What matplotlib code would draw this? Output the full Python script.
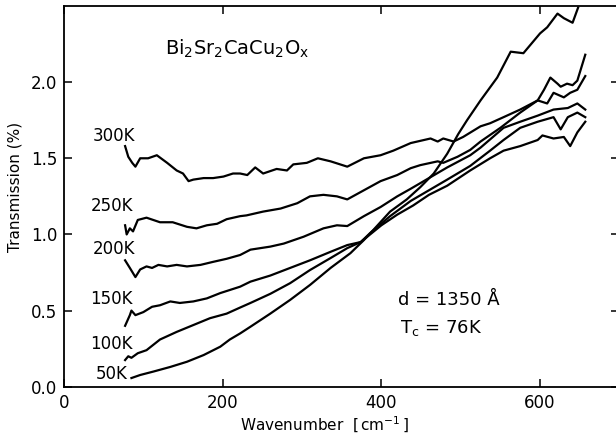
from matplotlib import pyplot as plt

# wavenumber (cm^-1) / transmission (%), one pair per temperature
x_300 = [77, 81, 86, 90, 96, 106, 117, 130, 142, 150, 157, 163, 176, 188, 201, 213, 222, 231,
         241, 251, 268, 281, 289, 306, 320, 336, 357, 378, 399, 415, 437, 462, 471, 478, 491,
         503, 525, 537, 554, 575, 597, 609, 617, 630, 638, 647, 657]
t_300 = [1.58, 1.51, 1.47, 1.445, 1.50, 1.50, 1.52, 1.47, 1.42, 1.40, 1.35, 1.36, 1.37, 1.37,
         1.38, 1.40, 1.40, 1.39, 1.44, 1.40, 1.43, 1.42, 1.46, 1.47, 1.50, 1.48, 1.445, 1.50,
         1.52, 1.55, 1.60, 1.63, 1.61, 1.63, 1.61, 1.64, 1.71, 1.73, 1.77, 1.82, 1.88, 1.86,
         1.93, 1.90, 1.93, 1.95, 2.04]

x_250 = [77, 79, 83, 87, 93, 104, 121, 137, 155, 167, 180, 193, 205, 222, 230, 251, 273, 294,
         310, 327, 344, 357, 378, 399, 420, 437, 449, 471, 478, 496, 512, 525, 550, 575, 597,
         605, 613, 622, 626, 634, 641, 647, 657]
t_250 = [1.06, 1.00, 1.04, 1.02, 1.095, 1.11, 1.08, 1.08, 1.05, 1.04, 1.06, 1.07, 1.10, 1.12,
         1.125, 1.15, 1.17, 1.205, 1.25, 1.26, 1.25, 1.23, 1.29, 1.35, 1.39, 1.435, 1.455, 1.48,
         1.47, 1.51, 1.555, 1.61, 1.70, 1.80, 1.88, 1.95, 2.03, 1.99, 1.97, 1.99, 1.98, 2.01, 2.18]

x_200 = [77, 83, 90, 96, 104, 111, 119, 130, 142, 155, 172, 188, 205, 222, 235, 260, 277, 302,
         327, 344, 357, 378, 399, 420, 437, 460, 483, 512, 525, 554, 575, 597, 617, 635, 647, 657]
t_200 = [0.83, 0.78, 0.72, 0.77, 0.79, 0.78, 0.80, 0.79, 0.80, 0.79, 0.80, 0.82, 0.84, 0.865,
         0.90, 0.92, 0.94, 0.985, 1.04, 1.06, 1.055, 1.12, 1.18, 1.25, 1.30, 1.37, 1.44, 1.52,
         1.57, 1.70, 1.74, 1.78, 1.82, 1.83, 1.86, 1.82]

x_150 = [77, 83, 85, 90, 100, 111, 121, 134, 146, 163, 180, 197, 222, 235, 260, 285, 310, 336,
         357, 374, 400, 420, 440, 460, 483, 512, 537, 554, 575, 597, 603, 617, 630, 638, 647, 657]
t_150 = [0.40, 0.47, 0.50, 0.47, 0.49, 0.525, 0.535, 0.56, 0.55, 0.56, 0.58, 0.615, 0.657, 0.69,
         0.73, 0.78, 0.83, 0.886, 0.93, 0.95, 1.06, 1.13, 1.19, 1.26, 1.32, 1.42, 1.50, 1.55,
         1.58, 1.62, 1.65, 1.63, 1.64, 1.58, 1.67, 1.74]

x_100 = [77, 81, 85, 93, 104, 121, 142, 163, 184, 205, 222, 235, 260, 285, 310, 336, 357, 374,
         386, 411, 437, 460, 483, 512, 537, 554, 575, 597, 617, 626, 635, 647, 657]
t_100 = [0.175, 0.20, 0.19, 0.22, 0.24, 0.31, 0.36, 0.405, 0.45, 0.48, 0.52, 0.55, 0.61, 0.68,
         0.766, 0.845, 0.91, 0.95, 1.01, 1.12, 1.22, 1.29, 1.36, 1.45, 1.55, 1.62, 1.70, 1.74,
         1.77, 1.69, 1.77, 1.80, 1.77]

x_50 = [85, 96, 113, 134, 155, 176, 197, 209, 222, 235, 260, 285, 310, 336, 361, 378, 390, 411,
        432, 449, 466, 483, 497, 508, 525, 546, 563, 579, 600, 609, 622, 630, 641, 648]
t_50 = [0.057, 0.077, 0.10, 0.13, 0.164, 0.208, 0.263, 0.31, 0.35, 0.394, 0.48, 0.57, 0.668,
        0.78, 0.877, 0.963, 1.03, 1.15, 1.23, 1.31, 1.40, 1.53, 1.66, 1.75, 1.88, 2.03, 2.20,
        2.19, 2.32, 2.36, 2.45, 2.42, 2.39, 2.49]

curves = [(x_300, t_300), (x_250, t_250), (x_200, t_200),
          (x_150, t_150), (x_100, t_100), (x_50, t_50)]

temp_labels = ["300K", "250K", "200K", "150K", "100K", "50K"]
label_x = [90, 87, 90, 87, 87, 80]
label_y = [1.645, 1.186, 0.904, 0.576, 0.28, 0.083]

x_ticks = [0, 200, 400, 600]
y_ticks = [0.0, 0.5, 1.0, 1.5, 2.0]
y_tick_labels = ["0.0", "0.5", "1.0", "1.5", "2.0"]

plt.rcParams["font.family"] = ["DejaVu Sans"]

fig = plt.figure(figsize=(6.16, 4.44), dpi=100)
ax = fig.add_axes([0.1039, 0.129, 0.9016, 0.8575])

for xs, ts in curves:
    ax.plot(xs, ts, color="black", linewidth=1.6, solid_joinstyle="round")

for lab, lx, ly in zip(temp_labels, label_x, label_y):
    ax.text(lx, ly, lab, ha="right", va="center", fontsize=12)

ax.text(218, 2.22, r"$\mathregular{Bi_2Sr_2CaCu_2O_x}$", ha="center", va="center", fontsize=14)
ax.text(421, 0.57, "d = 1350 Å", ha="left", va="center", fontsize=13)
ax.text(424, 0.385, r"$\mathregular{T_c}$ = 76K", ha="left", va="center", fontsize=13)

ax.set_xlim(0, 700)
ax.set_ylim(0, 2.5)
ax.set_xticks(x_ticks)
ax.set_yticks(y_ticks)
ax.set_yticklabels(y_tick_labels)
ax.tick_params(direction="in", length=6, width=1.1, labelsize=12,
               top=True, right=True, pad=5)
for s in ax.spines.values():
    s.set_linewidth(1.3)

ax.set_xlabel(r"Wavenumber  $\left[\,\mathregular{cm^{-1}}\,\right]$", fontsize=11)
ax.set_ylabel("Transmission (%)", fontsize=11)
ax.xaxis.set_label_coords(0.47, -0.075)
ax.yaxis.set_label_coords(-0.074, 0.525)

plt.savefig("out.png", dpi=100)
